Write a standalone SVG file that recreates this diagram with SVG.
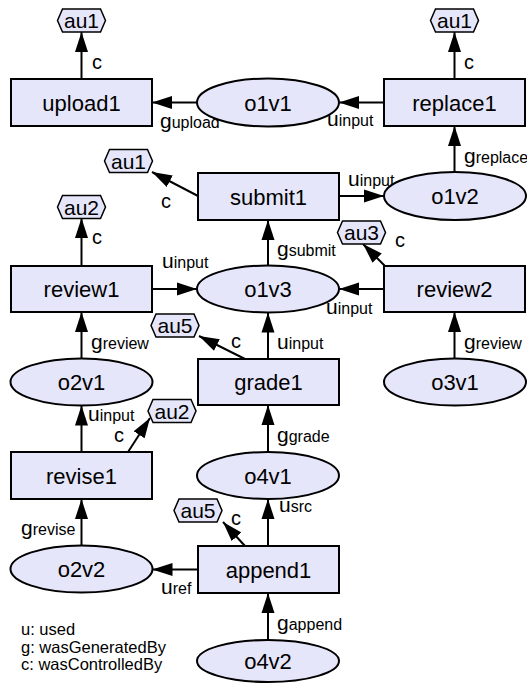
<svg xmlns="http://www.w3.org/2000/svg" width="527" height="683" viewBox="0 0 527 683">
<style>
.n{fill:#e6e6fa;stroke:#000;stroke-width:2}
.h{fill:#e6e6fa;stroke:#000;stroke-width:1.5}
.t{font-family:"Liberation Sans",Arial,sans-serif;font-size:22px;text-anchor:middle;fill:#000}
.ht{font-family:"Liberation Sans",Arial,sans-serif;font-size:21px;text-anchor:middle;fill:#000}
.l{font-family:"Liberation Sans",Arial,sans-serif;font-size:21px;fill:#000}
.s{font-size:16px}
.c{font-family:"Liberation Sans",Arial,sans-serif;font-size:20px;fill:#000}
.lg{font-family:"Liberation Sans",Arial,sans-serif;font-size:16.5px;fill:#000}
.e{stroke:#000;stroke-width:2;fill:none;marker-end:url(#a)}
</style>
<defs>
<marker id="a" markerWidth="20" markerHeight="14" refX="20" refY="7" orient="auto" markerUnits="userSpaceOnUse">
<path d="M0,0.5 L20,7 L0,13.5 z" fill="#000"/>
</marker>
</defs>
<g id="connectors">
<path class="e" d="M197,102.5 L152,102.5"/>
<path class="e" d="M384,102.5 L339,102.5"/>
<path class="e" d="M81.5,79 L81.5,32"/>
<path class="e" d="M454.5,79 L454.5,32"/>
<path class="e" d="M454.5,172 L454.5,126"/>
<path class="e" d="M339,196 L384,196"/>
<path class="e" d="M198,196 L152,172"/>
<path class="e" d="M268,265.5 L268,220"/>
<path class="e" d="M152,289 L197,289"/>
<path class="e" d="M81.5,266 L81.5,218"/>
<path class="e" d="M384,289 L339,289"/>
<path class="e" d="M385,266 L363,244"/>
<path class="e" d="M454.5,358.5 L454.5,312"/>
<path class="e" d="M268,359 L268,312.5"/>
<path class="e" d="M245,359 L199,336"/>
<path class="e" d="M81.5,358.5 L81.5,312"/>
<path class="e" d="M81.5,452 L81.5,405.5"/>
<path class="e" d="M128,452 L150,418"/>
<path class="e" d="M268,452 L268,405"/>
<path class="e" d="M81.5,545.5 L81.5,499"/>
<path class="e" d="M198,569.5 L152.5,569.5"/>
<path class="e" d="M245,546 L223,522"/>
<path class="e" d="M268,546 L268,499"/>
<path class="e" d="M268,640 L268,593"/>
</g>
<g id="edge-labels">
<text class="c" x="92" y="69">c</text>
<text class="l" x="160" y="128">g<tspan class="s">upload</tspan></text>
<text class="c" x="464" y="69">c</text>
<text class="l" x="327" y="126">u<tspan class="s">input</tspan></text>
<text class="l" x="464" y="163">g<tspan class="s">replace</tspan></text>
<text class="l" x="348" y="186">u<tspan class="s">input</tspan></text>
<text class="c" x="161" y="208">c</text>
<text class="c" x="92" y="244">c</text>
<text class="l" x="162" y="268">u<tspan class="s">input</tspan></text>
<text class="l" x="277" y="256">g<tspan class="s">submit</tspan></text>
<text class="c" x="395" y="247">c</text>
<text class="l" x="326" y="314">u<tspan class="s">input</tspan></text>
<text class="l" x="277" y="349">u<tspan class="s">input</tspan></text>
<text class="l" x="464" y="349">g<tspan class="s">review</tspan></text>
<text class="l" x="91" y="349">g<tspan class="s">review</tspan></text>
<text class="c" x="231" y="348">c</text>
<text class="l" x="88" y="421">u<tspan class="s">input</tspan></text>
<text class="c" x="114" y="442">c</text>
<text class="l" x="277" y="442">g<tspan class="s">grade</tspan></text>
<text class="l" x="21" y="535">g<tspan class="s">revise</tspan></text>
<text class="c" x="231" y="525">c</text>
<text class="l" x="279" y="512">u<tspan class="s">src</tspan></text>
<text class="l" x="161" y="594">u<tspan class="s">ref</tspan></text>
<text class="l" x="277" y="630">g<tspan class="s">append</tspan></text>
</g>
<g id="upload1"><rect class="n" x="11" y="79" width="141" height="47"/><text class="t" x="81.5" y="110.5">upload1</text></g>
<g id="o1v1"><ellipse class="n" cx="268" cy="102.5" rx="71" ry="24"/><text class="t" x="268" y="110.5">o1v1</text></g>
<g id="replace1"><rect class="n" x="384" y="79" width="141" height="47"/><text class="t" x="454.5" y="110.5">replace1</text></g>
<g id="submit1"><rect class="n" x="198" y="173" width="141" height="47"/><text class="t" x="268.5" y="204.5">submit1</text></g>
<g id="o1v2"><ellipse class="n" cx="455" cy="196" rx="71" ry="24"/><text class="t" x="455" y="204">o1v2</text></g>
<g id="review1"><rect class="n" x="11" y="266" width="141" height="46"/><text class="t" x="81.5" y="297">review1</text></g>
<g id="o1v3"><ellipse class="n" cx="268" cy="289" rx="71" ry="23.5"/><text class="t" x="268" y="297">o1v3</text></g>
<g id="review2"><rect class="n" x="384" y="266" width="141" height="46"/><text class="t" x="454.5" y="297">review2</text></g>
<g id="grade1"><rect class="n" x="198" y="359" width="141" height="46"/><text class="t" x="268.5" y="390">grade1</text></g>
<g id="o2v1"><ellipse class="n" cx="81.5" cy="382" rx="71" ry="23.5"/><text class="t" x="81.5" y="390">o2v1</text></g>
<g id="o3v1"><ellipse class="n" cx="455" cy="382" rx="71" ry="23.5"/><text class="t" x="455" y="390">o3v1</text></g>
<g id="revise1"><rect class="n" x="11" y="452" width="141" height="47"/><text class="t" x="81.5" y="483.5">revise1</text></g>
<g id="o4v1"><ellipse class="n" cx="268" cy="475.5" rx="71" ry="23.5"/><text class="t" x="268" y="483.5">o4v1</text></g>
<g id="o2v2"><ellipse class="n" cx="81.5" cy="569" rx="71" ry="23.5"/><text class="t" x="81.5" y="577">o2v2</text></g>
<g id="append1"><rect class="n" x="198" y="546" width="141" height="47"/><text class="t" x="268.5" y="577.5">append1</text></g>
<g id="o4v2"><ellipse class="n" cx="268" cy="661" rx="71" ry="21"/><text class="t" x="268" y="669">o4v2</text></g>
<g id="au1-a"><polygon class="h" points="57.5,20.5 62.5,9 100.5,9 105.5,20.5 100.5,32 62.5,32"/><text class="ht" x="81.5" y="28">au1</text></g>
<g id="au1-b"><polygon class="h" points="430.5,20.5 435.5,9 473.5,9 478.5,20.5 473.5,32 435.5,32"/><text class="ht" x="454.5" y="28">au1</text></g>
<g id="au1-c"><polygon class="h" points="104.5,161 109.5,149.5 147.5,149.5 152.5,161 147.5,172.5 109.5,172.5"/><text class="ht" x="128.5" y="168.5">au1</text></g>
<g id="au2-a"><polygon class="h" points="57.5,207 62.5,195.5 100.5,195.5 105.5,207 100.5,218.5 62.5,218.5"/><text class="ht" x="81.5" y="214.5">au2</text></g>
<g id="au3"><polygon class="h" points="337.5,232.5 342.5,221 380.5,221 385.5,232.5 380.5,244 342.5,244"/><text class="ht" x="361.5" y="240">au3</text></g>
<g id="au5-a"><polygon class="h" points="151,325.5 156,314 194,314 199,325.5 194,337 156,337"/><text class="ht" x="175" y="333">au5</text></g>
<g id="au2-b"><polygon class="h" points="148,411 153,399.5 191,399.5 196,411 191,422.5 153,422.5"/><text class="ht" x="172" y="418.5">au2</text></g>
<g id="au5-b"><polygon class="h" points="174,510.5 179,499 217,499 222,510.5 217,522 179,522"/><text class="ht" x="198" y="518">au5</text></g>
<g id="legend">
<text class="lg" x="21" y="635">u: used</text>
<text class="lg" x="21" y="652.5">g: wasGeneratedBy</text>
<text class="lg" x="21" y="670">c: wasControlledBy</text>
</g>
</svg>
